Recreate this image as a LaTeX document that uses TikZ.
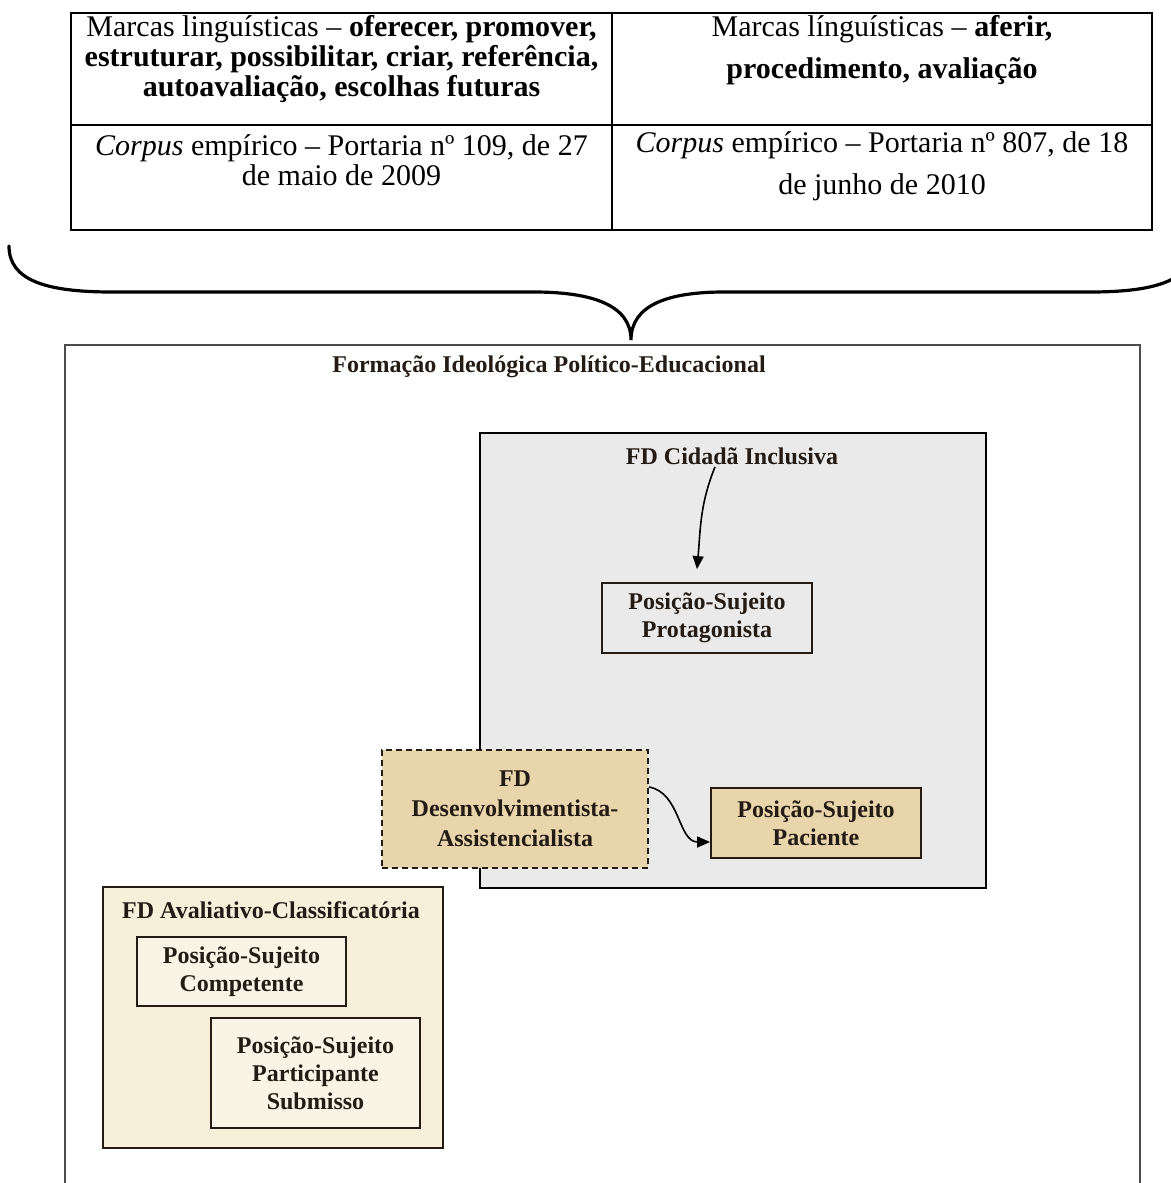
\documentclass[tikz,border=0pt]{standalone}
\usepackage{fontspec}
\setmainfont{Liberation Serif}
\usetikzlibrary{positioning, arrows.meta}

\definecolor{tanfill}{RGB}{233,213,171}
\definecolor{creamfill}{RGB}{248,239,219}
\definecolor{paperfill}{RGB}{250,244,231}
\definecolor{greyfill}{RGB}{234,234,234}
\definecolor{inkcol}{RGB}{36,27,20}

\begin{document}
\begin{tikzpicture}[
        x=0.5pt, y=-0.5pt,
        cell/.style={align=center, inner sep=0pt, font=\fontsize{15}{15}\selectfont},
        widecell/.style={cell, font=\fontsize{15}{21}\selectfont},
        frame/.style={line width=1.3pt},
        rule/.style={line width=0.8pt},
        brace/.style={line width=1.6pt, line cap=round},
        outer/.style={draw=black!70, line width=1.2pt},
        lbl/.style={align=center, inner sep=1pt, text=inkcol, font=\fontsize{12}{14}\selectfont\bfseries},
        posbox/.style={lbl, draw=inkcol, line width=0.9pt},
        greybox/.style={draw=black, line width=1pt, fill=greyfill},
        arr/.style={-{Triangle[length=6.5pt, width=5.5pt]}, line width=0.8pt, draw=black}
    ]
    \useasboundingbox (0,0) rectangle (1171,1183);
    \clip (0,0) rectangle (1171,1183);

    % table
    \draw[frame] (71,13) rectangle (1152,230);
    \draw[rule] (612,13) -- (612,230) (71,125) -- (1152,125);
    \node[cell] (marksL) at (341.5,59) {Marcas linguísticas – \textbf{oferecer, promover,}\\
        \textbf{estruturar, possibilitar, criar, referência,}\\ \textbf{autoavaliação, escolhas futuras}};
    \node[widecell] (marksR) at (882,50) {Marcas línguísticas – \textbf{aferir,}\\ \textbf{procedimento, avaliação}};
    \node[cell] (corpusL) at (341.5,160) {\textit{Corpus} empírico – Portaria nº 109, de 27\\ de maio de 2009};
    \node[widecell] (corpusR) at (882,166) {\textit{Corpus} empírico – Portaria nº 807, de 18\\ de junho de 2010};

    % brace
    \draw[brace] (9,246) .. controls (9,280) and (45,292) .. (112,292) -- (534,292)
        .. controls (592,292) and (631,305) .. (631,340)
        .. controls (631,305) and (668,292) .. (724,292) -- (1090,292)
        .. controls (1157,292) and (1193,280) .. (1193,246);

    % formacao ideologica
    \draw[outer] (65,1200) -- (65,345) -- (1140,345) -- (1140,1200);
    \node[lbl] (fip) at (549,367) {Formação Ideológica Político-Educacional};

    \node[greybox, minimum width=253pt, minimum height=227.5pt] (cidbox) at (733,660.5) {};
    \node[lbl] (cid) at (732,456) {FD Cidadã Inclusiva};
    \node[posbox, minimum width=105pt, minimum height=35pt] (prot) at (707,618) {Posição-Sujeito\\ Protagonista};
    \draw[arr] ([xshift=-8.5pt]cid.south) to[out=-112, in=85] ([xshift=-5pt, yshift=6.5pt]prot.north);

    \node[posbox, dashed, dash pattern=on 3pt off 2pt, fill=tanfill, minimum width=133pt, minimum height=59pt,
        font=\fontsize{12}{15}\selectfont\bfseries] (dev) at (515,809) {FD\\ Desenvolvimentista-\\ Assistencialista};
    \node[posbox, fill=tanfill, minimum width=105pt, minimum height=35pt] (pac) at (816,823) {Posição-Sujeito\\ Paciente};
    \draw[arr] ([yshift=11pt]dev.east) to[out=-10, in=180] ([yshift=-9.5pt]pac.west);

    \node[posbox, fill=creamfill, minimum width=170pt, minimum height=130.5pt] (avbox) at (273,1017.5) {};
    \node[lbl] (av) at (271,910) {FD Avaliativo-Classificatória};
    \node[posbox, fill=paperfill, minimum width=104.5pt, minimum height=34.5pt] (comp) at (241.5,971.5) {Posição-Sujeito\\ Competente};
    \node[posbox, fill=paperfill, minimum width=104.5pt, minimum height=55pt] (part) at (315.5,1073) {Posição-Sujeito\\ Participante\\ Submisso};
\end{tikzpicture}
\end{document}
